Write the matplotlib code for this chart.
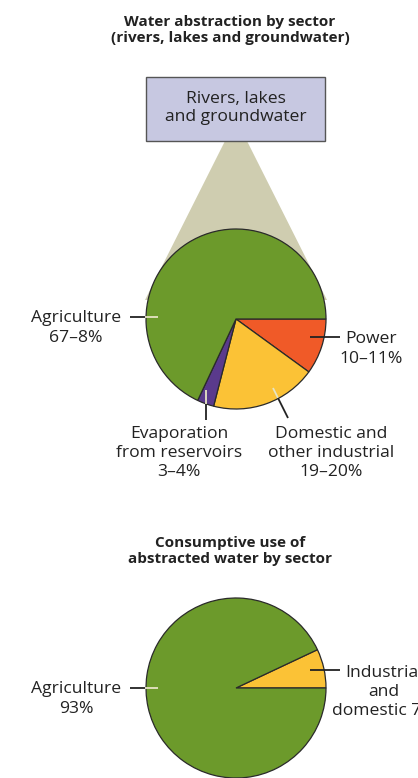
import numpy as np
import matplotlib
matplotlib.use("Agg")
import matplotlib.pyplot as plt
from matplotlib.patches import Polygon, Rectangle

plt.rcParams['font.family'] = ['Open Sans', 'DejaVu Sans']

# abstraction by sector, clockwise from 3 o'clock
abs_labels = ["Power", "Domestic and\nother industrial", "Evaporation\nfrom reservoirs", "Agriculture"]
abs_ranges = ["10\u201311%", "19\u201320%", "3\u20134%", "67\u20138%"]
abs_values = [10, 19, 3, 68]
abs_colors = ["#f05a28", "#fbc236", "#5a3a8c", "#6c9a2b"]

# consumptive use, counter-clockwise from 3 o'clock
use_labels = ["Industrial\nand\ndomestic 7%", "Agriculture\n93%"]
use_values = [7, 93]
use_colors = ["#fbc236", "#6c9a2b"]

W, H = 418, 778
fig = plt.figure(figsize=(W / 100, H / 100), dpi=100)
ax = fig.add_axes([0, 0, 1, 1])

def py(y):
    # pixel row (from top) -> data y
    return H - y

fs = 12.6
fs_t = 11.0
ls = 1.28
dark = "#222222"
light = "#e6e4c4"
R = 90

# source box and beam
ax.add_patch(Polygon([(225, py(141)), (247, py(141)), (327, py(300)), (145, py(300))],
                     closed=True, fc="#cfcdb0", ec="none", zorder=1))
ax.add_patch(Rectangle((146, py(141)), 179, 64, fc="#c7c8e1", ec="#555555", lw=1.0, zorder=2))
ax.text(236, py(108), "Rivers, lakes\nand groundwater", ha="center", va="center",
        fontsize=fs, color=dark, linespacing=1.2, zorder=3)

# top pie
c1 = (236, py(319))
ax.pie(abs_values, colors=abs_colors, startangle=0, counterclock=False,
       center=c1, radius=R, frame=True,
       wedgeprops=dict(edgecolor="#2a2a2a", linewidth=0.9, zorder=4))

# bottom pie
c2 = (236, py(688))
ax.pie(use_values, colors=use_colors, startangle=0, counterclock=True,
       center=c2, radius=R, frame=True,
       wedgeprops=dict(edgecolor="#2a2a2a", linewidth=0.9, zorder=4))

# titles
ax.text(230, py(30), "Water abstraction by sector\n(rivers, lakes and groundwater)",
        ha="center", va="center", fontsize=fs_t, fontweight="bold", color=dark, linespacing=1.25)
ax.text(230, py(551), "Consumptive use of\nabstracted water by sector",
        ha="center", va="center", fontsize=fs_t, fontweight="bold", color=dark, linespacing=1.25)

# leader lines
def leader(p_in, p_edge, p_out, inner=light):
    ax.plot([p_in[0], p_edge[0]], [py(p_in[1]), py(p_edge[1])], color=inner, lw=1.3,
            solid_capstyle="butt", zorder=5)
    ax.plot([p_edge[0], p_out[0]], [py(p_edge[1]), py(p_out[1])], color=dark, lw=1.3,
            solid_capstyle="butt", zorder=5)

leader((158, 317), (145, 317), (130, 317))
leader((310, 337), (310, 337), (340, 337))
leader((273, 388), (278, 398), (288, 418))
leader((206, 390), (206, 404), (206, 420))
leader((158, 688), (145, 688), (130, 688))
leader((310, 670), (310, 670), (340, 670))

# labels, top pie
ax.text(76, py(328), abs_labels[3] + "\n" + abs_ranges[3], ha="center", va="center",
        fontsize=fs, color=dark, linespacing=ls)
ax.text(371, py(349), abs_labels[0] + "\n" + abs_ranges[0], ha="center", va="center",
        fontsize=fs, color=dark, linespacing=ls)
ax.text(331, py(453), abs_labels[1] + "\n" + abs_ranges[1], ha="center", va="center",
        fontsize=fs, color=dark, linespacing=ls)
ax.text(179, py(453), abs_labels[2] + "\n" + abs_ranges[2], ha="center", va="center",
        fontsize=fs, color=dark, linespacing=ls)

# labels, bottom pie
ax.text(76, py(699), use_labels[1], ha="center", va="center",
        fontsize=fs, color=dark, linespacing=ls)
ax.text(384, py(692), use_labels[0], ha="center", va="center",
        fontsize=fs, color=dark, linespacing=ls)

ax.set_xlim(0, W)
ax.set_ylim(0, H)
ax.set_aspect("equal")
ax.axis("off")

fig.savefig("out.png", dpi=100, facecolor="white")
